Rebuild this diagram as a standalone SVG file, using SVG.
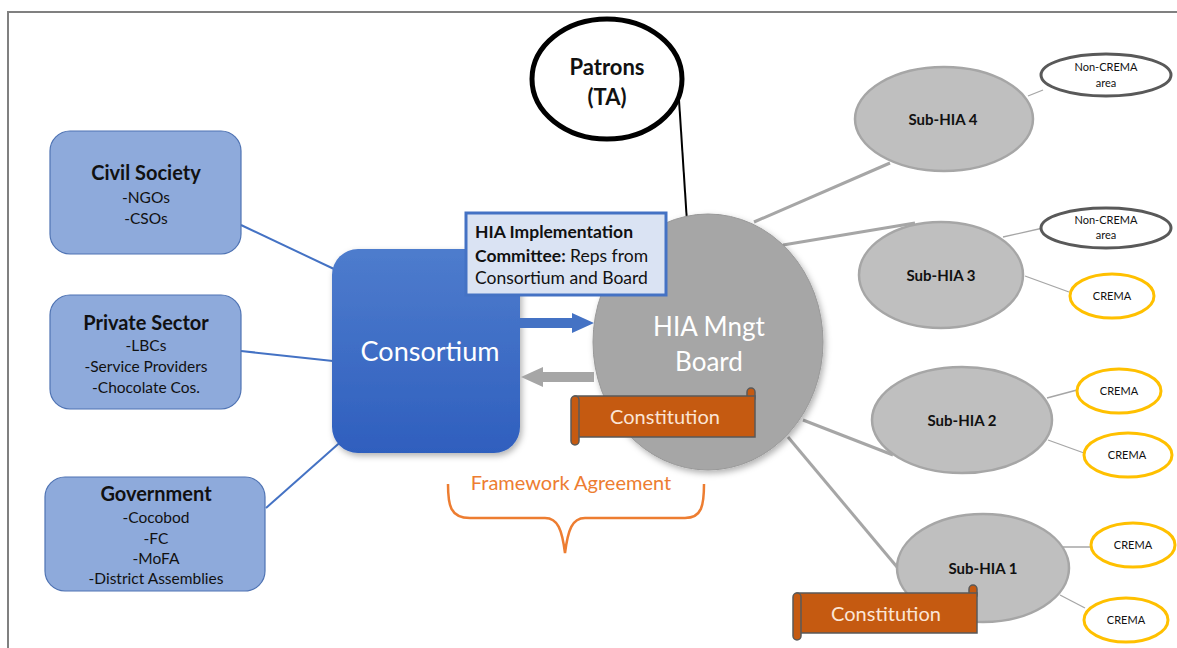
<svg xmlns="http://www.w3.org/2000/svg" width="1177" height="648" viewBox="0 0 1177 648">
<style>
text{font-family:Lato,"Liberation Sans",sans-serif;text-anchor:middle}
.ext{fill:#8eaadb;stroke:#4f73b3;stroke-width:1.2}
.bl{stroke:#4472c4;stroke-width:2;fill:none}
.gl{stroke:#a6a6a6;stroke-width:3;fill:none}
.tl{stroke:#a6a6a6;stroke-width:1.3;fill:none}
.sub{fill:#bfbfbf;stroke:#a6a6a6;stroke-width:2.5}
.nc{fill:#fff;stroke:#595959;stroke-width:3}
.cr{fill:#fff;stroke:#ffc000;stroke-width:3}
.h{font-weight:bold;font-size:20px;fill:#111}
.s{font-size:15.5px;fill:#111}
.sl{font-weight:bold;font-size:15px;fill:#111}
.sm{font-size:11px;fill:#111}
.scr{fill:#c55a11;stroke:#595959;stroke-width:1.5}
.ct{font-size:20px;fill:#fbe5d6}
</style>
<defs>
<linearGradient id="cg" x1="0" y1="0" x2="0" y2="1">
<stop offset="0" stop-color="#4e7ccd"/>
<stop offset="1" stop-color="#2f5fbe"/>
</linearGradient>
<filter id="sh" x="-20%" y="-20%" width="140%" height="140%">
<feDropShadow dx="2" dy="3" stdDeviation="3" flood-color="#000" flood-opacity="0.3"/>
</filter>
</defs>
<rect width="1177" height="648" fill="#fff"/>
<path d="M8,648 V12 H1177" fill="none" stroke="#808080" stroke-width="2"/>

<g id="connectors">
<line class="bl" x1="241" y1="225" x2="334" y2="269"/>
<line class="bl" x1="241" y1="351" x2="333" y2="361"/>
<line class="bl" x1="266" y1="508" x2="345" y2="438"/>
<line x1="679" y1="100" x2="687" y2="222" stroke="#000" stroke-width="2"/>
<line class="gl" x1="754" y1="222" x2="890" y2="163"/>
<line class="gl" x1="783" y1="245" x2="915" y2="223"/>
<line class="gl" x1="803" y1="420" x2="893" y2="455"/>
<line class="gl" x1="788" y1="437" x2="897" y2="567"/>
<line class="tl" x1="1028" y1="96" x2="1043" y2="90"/>
<line class="tl" x1="1003" y1="237" x2="1043" y2="228"/>
<line class="tl" x1="1025" y1="276" x2="1069" y2="292"/>
<line class="tl" x1="1047" y1="398" x2="1077" y2="390"/>
<line class="tl" x1="1048" y1="440" x2="1084" y2="453"/>
<line class="tl" x1="1057" y1="547" x2="1090" y2="547"/>
<line class="tl" x1="1060" y1="595" x2="1085" y2="608"/>
</g>

<g id="civil-society">
<rect class="ext" x="50" y="131" width="191" height="123" rx="20"/>
<text class="h" x="146" y="180">Civil Society</text>
<text class="s" x="146" y="203">-NGOs</text>
<text class="s" x="146" y="224">-CSOs</text>
</g>
<g id="private-sector">
<rect class="ext" x="50" y="295" width="191" height="114" rx="20"/>
<text class="h" x="146" y="330">Private Sector</text>
<text class="s" x="146" y="351">-LBCs</text>
<text class="s" x="146" y="372">-Service Providers</text>
<text class="s" x="146" y="393">-Chocolate Cos.</text>
</g>
<g id="government">
<rect class="ext" x="45" y="477" width="220" height="114" rx="20"/>
<text class="h" x="156" y="501">Government</text>
<text class="s" x="156" y="523">-Cocobod</text>
<text class="s" x="156" y="544">-FC</text>
<text class="s" x="156" y="564">-MoFA</text>
<text class="s" x="156" y="584">-District Assemblies</text>
</g>

<g id="consortium">
<rect x="332" y="249" width="188" height="204" rx="26" fill="url(#cg)" filter="url(#sh)"/>
<text x="430" y="361" font-size="27" fill="#fff">Consortium</text>
</g>

<g id="board">
<ellipse cx="708" cy="342" rx="115" ry="128" fill="#a6a6a6" stroke="#999" stroke-width="1" filter="url(#sh)"/>
<text x="709" y="336" font-size="26" fill="#fff">HIA Mngt</text>
<text x="709" y="371" font-size="26" fill="#fff">Board</text>
</g>

<g id="arrows">
<path d="M520,318 H572 V313 L594,323 L572,333 V328 H520 Z" fill="#4472c4"/>
<path d="M594,372 H543 V367 L521,377 L543,387 V382 H594 Z" fill="#a6a6a6"/>
</g>

<g id="committee">
<rect x="466" y="213" width="200" height="82" fill="#dae3f3" stroke="#4472c4" stroke-width="3"/>
<text x="475" y="238" font-size="17.5" style="text-anchor:start" fill="#111"><tspan font-weight="bold">HIA Implementation</tspan></text>
<text x="475" y="262" font-size="17.5" style="text-anchor:start" fill="#111"><tspan font-weight="bold">Committee:</tspan> Reps from</text>
<text x="475" y="284" font-size="17.5" style="text-anchor:start" fill="#111">Consortium and Board</text>
</g>

<g id="patrons">
<ellipse cx="607" cy="79" rx="75" ry="60" fill="#fff" stroke="#000" stroke-width="5"/>
<text x="607" y="75" font-size="22" font-weight="bold" fill="#111">Patrons</text>
<text x="607" y="105" font-size="22" font-weight="bold" fill="#111">(TA)</text>
</g>

<g id="constitution-1">
<rect class="scr" x="747" y="388" width="8" height="14" rx="4"/>
<rect class="scr" x="575" y="396" width="180" height="41"/>
<rect class="scr" x="571" y="396" width="8" height="49" rx="4"/>
<text class="ct" x="665" y="424">Constitution</text>
</g>

<g id="framework">
<text x="571" y="490" font-size="20" fill="#ed7d31">Framework Agreement</text>
<path d="M448,484 C448,505 450,518 470,518 H545 C558,518 562,530 565,553 C568,530 572,518 585,518 H685 C702,518 704,505 704,484" fill="none" stroke="#ed7d31" stroke-width="2.5"/>
</g>

<g id="sub-hia-4">
<ellipse class="sub" cx="944" cy="119" rx="89" ry="52"/>
<text class="sl" x="943" y="125">Sub-HIA 4</text>
</g>
<g id="sub-hia-3">
<ellipse class="sub" cx="941" cy="275" rx="82" ry="53"/>
<text class="sl" x="941" y="281">Sub-HIA 3</text>
</g>
<g id="sub-hia-2">
<ellipse class="sub" cx="962" cy="420" rx="90" ry="53"/>
<text class="sl" x="962" y="426">Sub-HIA 2</text>
</g>
<g id="sub-hia-1">
<ellipse class="sub" cx="983" cy="568" rx="86" ry="54"/>
<text class="sl" x="983" y="574">Sub-HIA 1</text>
</g>

<g id="constitution-2">
<rect class="scr" x="969" y="585" width="8" height="14" rx="4"/>
<rect class="scr" x="797" y="593" width="180" height="40"/>
<rect class="scr" x="793" y="593" width="8" height="47" rx="4"/>
<text class="ct" x="886" y="621">Constitution</text>
</g>

<g id="non-crema-1">
<ellipse class="nc" cx="1106" cy="75" rx="65" ry="21"/>
<text class="sm" x="1106" y="71">Non-CREMA</text>
<text class="sm" x="1106" y="87">area</text>
</g>
<g id="non-crema-2">
<ellipse class="nc" cx="1106" cy="228" rx="65" ry="20"/>
<text class="sm" x="1106" y="224">Non-CREMA</text>
<text class="sm" x="1106" y="239">area</text>
</g>
<g id="crema-3">
<ellipse class="cr" cx="1112" cy="296" rx="42" ry="22"/>
<text class="sm" x="1112" y="300">CREMA</text>
</g>
<g id="crema-2a">
<ellipse class="cr" cx="1119" cy="391" rx="42" ry="22"/>
<text class="sm" x="1119" y="395">CREMA</text>
</g>
<g id="crema-2b">
<ellipse class="cr" cx="1128" cy="455" rx="44" ry="22"/>
<text class="sm" x="1127" y="459">CREMA</text>
</g>
<g id="crema-1a">
<ellipse class="cr" cx="1133" cy="545" rx="42" ry="22"/>
<text class="sm" x="1133" y="549">CREMA</text>
</g>
<g id="crema-1b">
<ellipse class="cr" cx="1126" cy="620" rx="42" ry="22"/>
<text class="sm" x="1126" y="624">CREMA</text>
</g>
</svg>
